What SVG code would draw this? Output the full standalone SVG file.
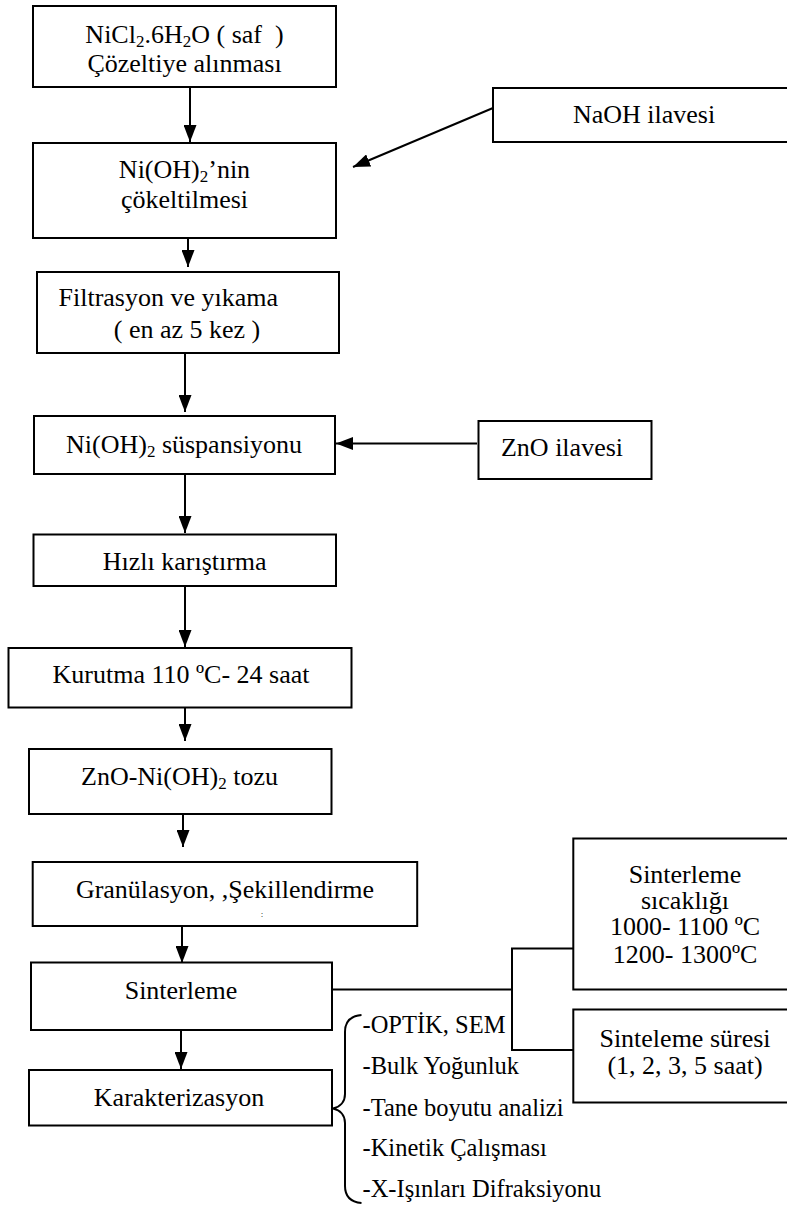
<svg xmlns="http://www.w3.org/2000/svg" width="787" height="1210" viewBox="0 0 787 1210">
<style>
.box{fill:#fff;stroke:#000;stroke-width:2}
text{font-family:'Liberation Serif','Times New Roman',serif;font-size:26px;fill:#000}
.c{text-anchor:middle}
.li{font-size:24.5px}
.ln{fill:none;stroke:#000;stroke-width:2}
.sub{font-size:17px}
</style>
<defs>
<marker id="ah" markerUnits="userSpaceOnUse" markerWidth="17" markerHeight="13" refX="17" refY="6.5" orient="auto">
<path d="M0,0 L17,6.5 L0,13 z" fill="#000"/>
</marker>
</defs>
<rect width="787" height="1210" fill="#fff"/>

<g id="connectors">
<line class="ln" x1="190" y1="87" x2="190" y2="142" marker-end="url(#ah)"/>
<line class="ln" x1="188" y1="238" x2="188" y2="267" marker-end="url(#ah)"/>
<line class="ln" x1="185" y1="353" x2="185" y2="412" marker-end="url(#ah)"/>
<line class="ln" x1="185" y1="474" x2="185" y2="533" marker-end="url(#ah)"/>
<line class="ln" x1="185" y1="586" x2="185" y2="647" marker-end="url(#ah)"/>
<line class="ln" x1="185" y1="707" x2="185" y2="741" marker-end="url(#ah)"/>
<line class="ln" x1="183" y1="814" x2="183" y2="847" marker-end="url(#ah)"/>
<line class="ln" x1="182" y1="926" x2="182" y2="963" marker-end="url(#ah)"/>
<line class="ln" x1="181" y1="1030" x2="181" y2="1069" marker-end="url(#ah)"/>
<line class="ln" x1="493" y1="108" x2="353" y2="167" marker-end="url(#ah)"/>
<line class="ln" x1="477" y1="443.5" x2="336" y2="443.5" marker-end="url(#ah)"/>
<polyline class="ln" points="331,989.5 512,989.5"/>
<polyline class="ln" points="573,948.5 512,948.5 512,1050 573,1050"/>
</g>

<g id="n1">
<rect class="box" x="33" y="6" width="303" height="81"/>
<text class="c" x="184.5" y="43" xml:space="preserve">NiCl<tspan class="sub" dy="4">2</tspan><tspan dy="-4">.6H</tspan><tspan class="sub" dy="4">2</tspan><tspan dy="-4">O ( saf  )</tspan></text>
<text class="c" x="184.5" y="72">Çözeltiye alınması</text>
</g>

<g id="n-naoh">
<rect class="box" x="493" y="88" width="310" height="54"/>
<text class="c" x="644" y="123">NaOH ilavesi</text>
</g>

<g id="n2">
<rect class="box" x="33" y="143" width="303" height="95"/>
<text class="c" x="184.5" y="178">Ni(OH)<tspan class="sub" dy="4">2</tspan><tspan dy="-4">’nin</tspan></text>
<text class="c" x="184.5" y="208">çökeltilmesi</text>
</g>

<g id="n3">
<rect class="box" x="37" y="272" width="302" height="81"/>
<text x="58.5" y="306">Filtrasyon ve yıkama</text>
<text class="c" x="187" y="338">( en az 5 kez )</text>
</g>

<g id="n4">
<rect class="box" x="34" y="416" width="301" height="58"/>
<text class="c" x="184" y="452.5">Ni(OH)<tspan class="sub" dy="4">2</tspan><tspan dy="-4"> süspansiyonu</tspan></text>
</g>

<g id="n-zno">
<rect class="box" x="478.5" y="421" width="173" height="58"/>
<text class="c" x="562" y="456">ZnO ilavesi</text>
</g>

<g id="n5">
<rect class="box" x="33.5" y="534.5" width="302.5" height="51.5"/>
<text class="c" x="184.7" y="570">Hızlı karıştırma</text>
</g>

<g id="n6">
<rect class="box" x="8.5" y="648" width="343" height="59.5"/>
<text class="c" x="181" y="683">Kurutma 110 ºC- 24 saat</text>
</g>

<g id="n7">
<rect class="box" x="29" y="749" width="302.5" height="65"/>
<text class="c" x="179.5" y="785">ZnO-Ni(OH)<tspan class="sub" dy="4">2</tspan><tspan dy="-4"> tozu</tspan></text>
</g>

<g id="n8">
<rect class="box" x="32.7" y="862" width="384.5" height="64"/>
<text class="c" x="225" y="898">Granülasyon, ,Şekillendirme</text>
<text class="c" x="262" y="917" style="font-size:9px">:</text>
</g>

<g id="n9">
<rect class="box" x="31" y="962.5" width="301" height="67.5"/>
<text class="c" x="181" y="999">Sinterleme</text>
</g>

<g id="n10">
<rect class="box" x="29" y="1070" width="303" height="55.5"/>
<text class="c" x="179" y="1106">Karakterizasyon</text>
</g>

<g id="n-temp">
<rect class="box" x="573.3" y="838.5" width="230" height="151"/>
<text class="c" x="685" y="883">Sinterleme</text>
<text class="c" x="685" y="908.5">sıcaklığı</text>
<text class="c" x="685" y="935">1000- 1100 ºC</text>
<text class="c" x="685" y="963">1200- 1300ºC</text>
</g>

<g id="n-time">
<rect class="box" x="573.3" y="1009.5" width="230" height="93"/>
<text class="c" x="685" y="1047">Sinteleme süresi</text>
<text class="c" x="685" y="1073.5">(1, 2, 3, 5 saat)</text>
</g>

<g id="n-char-list">
<path class="ln" d="M361.5,1015 C350,1016 345,1022 345,1032 L345,1094 C345,1102 340,1107 333,1108.5 C340,1110 345,1115 345,1123 L345,1186 C345,1196 350,1202 361.5,1203"/>
<text class="li" x="362.5" y="1033">-OPTİK, SEM</text>
<text class="li" x="362.5" y="1074">-Bulk Yoğunluk</text>
<text class="li" x="362.5" y="1115.5">-Tane boyutu analizi</text>
<text class="li" x="362.5" y="1155.5">-Kinetik Çalışması</text>
<text class="li" x="362.5" y="1196.5">-X-Işınları Difraksiyonu</text>
</g>
</svg>
